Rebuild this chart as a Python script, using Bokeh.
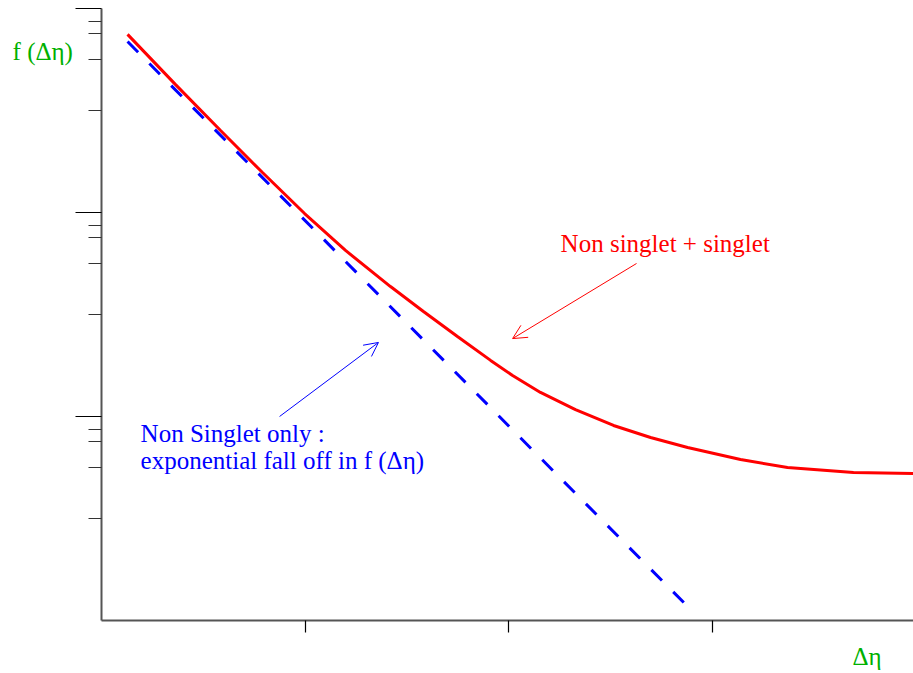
from bokeh.plotting import figure
from bokeh.models import Range1d, FixedTicker, Label, Arrow, OpenHead, LinearAxis
from bokeh.embed import file_html
from bokeh.resources import INLINE

# ---- data ----
red_x = [0.128, 0.364, 0.585, 0.791, 0.998, 1.199, 1.420, 1.582, 1.749, 1.912,
         2.020, 2.157, 2.329, 2.516, 2.698, 2.880, 3.140, 3.371, 3.695, 3.990]
red_y = [2.873, 2.627, 2.402, 2.196, 1.995, 1.814, 1.637, 1.515, 1.392, 1.275,
         1.201, 1.118, 1.034, 0.956, 0.897, 0.848, 0.789, 0.750, 0.725, 0.721]
blue_x = [0.128, 2.885]
blue_y = [2.838, 0.064]

x_ticks = [1, 2, 3]
y_major = [1, 2, 3]
y_minor = [0.5, 0.75, 0.875, 0.9375, 1.5, 1.75, 1.875, 1.9375, 2.5, 2.75, 2.875, 2.9375]
tick_labels = {1: "", 2: "", 3: ""}

red_arrow = dict(x_start=2.629, y_start=1.750, x_end=2.020, y_end=1.382)
blue_arrow = dict(x_start=0.875, y_start=1.000, x_end=1.361, y_end=1.363)

labels = [
    ("f (\u0394\u03b7)", -0.437, 2.789, "#00b000"),
    ("\u0394\u03b7", 3.690, -0.177, "#00b000"),
    ("Non singlet + singlet", 2.256, 1.848, "#ff0000"),
    ("Non Singlet only :", 0.192, 0.917, "#0000ff"),
    ("exponential fall off in f (\u0394\u03b7)", 0.192, 0.784, "#0000ff"),
]

FONT = "Liberation Serif"

p = figure(width=913, height=673, output_backend="svg", toolbar_location=None,
           x_range=Range1d(-0.4963, 3.990), y_range=Range1d(-0.2598, 3.0392),
           x_axis_location=None, y_axis_location=None,
           min_border=0)
p.outline_line_color = None
p.grid.visible = False
p.background_fill_color = "white"
p.border_fill_color = "white"

# axes placed at data 0 inside the frame
xax = LinearAxis(fixed_location=0, bounds=(0, 3.99),
                 ticker=FixedTicker(ticks=x_ticks, minor_ticks=[]))
yax = LinearAxis(fixed_location=0, bounds=(0, 3.0),
                 ticker=FixedTicker(ticks=y_major, minor_ticks=y_minor))
for ax in (xax, yax):
    ax.axis_line_color = "#555555"
    ax.axis_line_width = 2
    ax.major_tick_line_color = "black"
    ax.major_tick_line_width = 1.2
    ax.major_tick_in = 0
    ax.minor_tick_in = 0
    ax.major_label_overrides = tick_labels
    ax.major_label_text_font_size = "1px"
    ax.major_label_standoff = 0
xax.major_tick_out = 12
xax.minor_tick_out = 0
yax.major_tick_out = 26
yax.minor_tick_out = 13
yax.minor_tick_line_color = "#333333"
yax.minor_tick_line_width = 1.2
p.add_layout(xax, "below")
p.add_layout(yax, "left")

# curves
p.line(red_x, red_y, line_color="#ff0000", line_width=3)
p.line(blue_x, blue_y, line_color="#0000ff", line_width=3, line_dash="15 16")

# arrows
p.add_layout(Arrow(end=OpenHead(size=14, line_color="#ff0000", line_width=1),
                   line_color="#ff0000", line_width=1, **red_arrow))
p.add_layout(Arrow(end=OpenHead(size=14, line_color="#0000ff", line_width=1),
                   line_color="#0000ff", line_width=1, **blue_arrow))

# texts
for t, x, y, c in labels:
    p.add_layout(Label(x=x, y=y, text=t, text_color=c, text_font=FONT,
                       text_font_size="25px", text_baseline="alphabetic",
                       text_align="left"))

open("out.html", "w").write(file_html(p, INLINE))
